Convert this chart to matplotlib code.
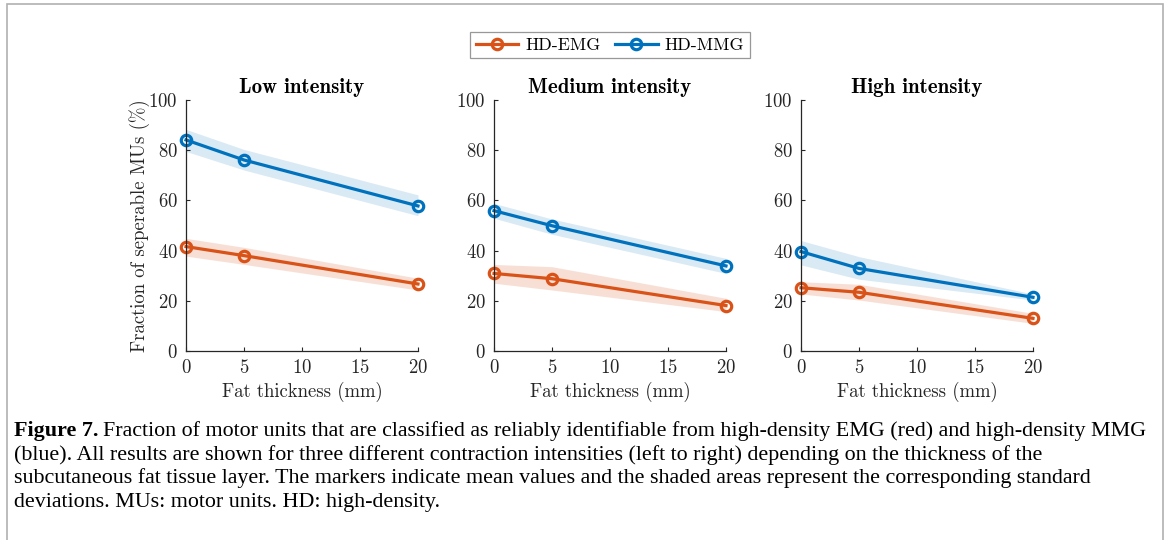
import matplotlib
matplotlib.use("Agg")
import matplotlib.pyplot as plt
from matplotlib.patches import Rectangle

plt.rcParams['font.family'] = 'cmr10'
plt.rcParams['axes.formatter.use_mathtext'] = True
plt.rcParams['mathtext.fontset'] = 'cm'

# fat thickness (mm)
fat = [0, 5, 20]
titoli = ['Low intensity', 'Medium intensity', 'High intensity']

# mean and band limits (%) per intensity
emg_mean = [[41.6, 38.0, 26.7], [30.9, 28.8, 18.1], [25.2, 23.4, 13.0]]
emg_low = [[37.8, 34.5, 24.3], [27.0, 24.3, 15.7], [22.7, 20.3, 11.0]]
emg_high = [[44.9, 41.3, 29.0], [34.5, 33.6, 21.0], [27.6, 26.6, 15.0]]

mmg_mean = [[84.1, 76.1, 57.8], [55.9, 49.9, 33.9], [39.6, 32.9, 21.4]]
mmg_low = [[79.5, 72.1, 53.9], [52.9, 46.5, 30.9], [34.3, 28.6, 20.3]]
mmg_high = [[88.3, 80.3, 62.2], [58.8, 52.6, 36.9], [44.0, 37.6, 22.7]]

rosso = '#D95319'
blu = '#0072BD'
grigio = '#262626'

fig = plt.figure(figsize=(11.7, 5.4), dpi=100)

# cornice grigia attorno alla figura
fig.patches.append(Rectangle((7 / 1170, -0.1), 1156 / 1170, 1.1 - 4 / 540, transform=fig.transFigure,
                             fill=False, edgecolor='#b0b0b0', linewidth=1.2))

x_inizio = [186, 494, 801]
assi = []
for i in range(3):
    ax = fig.add_axes([x_inizio[i] / 1170, 1 - 351 / 540, 232 / 1170, 251 / 540])
    ax.fill_between(fat, emg_low[i], emg_high[i], color=rosso, alpha=0.18, linewidth=0)
    ax.fill_between(fat, mmg_low[i], mmg_high[i], color=blu, alpha=0.15, linewidth=0)
    l1, = ax.plot(fat, emg_mean[i], '-o', color=rosso, lw=2.3, markersize=7.5,
                  markerfacecolor='none', markeredgewidth=2.3, clip_on=False, label='HD-EMG')
    l2, = ax.plot(fat, mmg_mean[i], '-o', color=blu, lw=2.3, markersize=7.5,
                  markerfacecolor='none', markeredgewidth=2.3, clip_on=False, label='HD-MMG')
    ax.set_xlim(0, 20)
    ax.set_ylim(0, 100)
    ax.set_xticks([0, 5, 10, 15, 20])
    ax.set_yticks([0, 20, 40, 60, 80, 100])
    ax.spines['top'].set_visible(False)
    ax.spines['right'].set_visible(False)
    for s in ['left', 'bottom']:
        ax.spines[s].set_color(grigio)
        ax.spines[s].set_linewidth(0.9)
    ax.tick_params(direction='in', length=3, width=0.8, colors=grigio, labelsize=13.5, pad=6)
    ax.set_xlabel('Fat thickness (mm)', fontsize=13.5, color=grigio, labelpad=3)
    ax.set_title(titoli[i], fontsize=15, family='cmb10', color='black', pad=5)
    assi.append(ax)

assi[0].set_ylabel('Fraction of seperable MUs (%)', fontsize=13.5, color=grigio, labelpad=-1.5)

leg = fig.legend(handles=[l1, l2], loc='center', bbox_to_anchor=(610 / 1170, 1 - 45 / 540), ncol=2,
                 fontsize=12.8, frameon=True, fancybox=False, edgecolor='#7f7f7f',
                 handlelength=2.4, columnspacing=0.8, handletextpad=0.4, borderpad=0.3, borderaxespad=0)
leg.get_frame().set_linewidth(0.9)

# didascalia
cap = ['(blue). All results are shown for three different contraction intensities (left to right) depending on the thickness of the',
       'subcutaneous fat tissue layer. The markers indicate mean values and the shaded areas represent the corresponding standard',
       'deviations. MUs: motor units. HD: high-density.']
y0 = 1 - 431 / 540
dy = 23.7 / 540
fs = 15.8
t = fig.text(14 / 1170, y0, 'Figure 7.', family='Liberation Serif', weight='bold', fontsize=fs, va='center')
fig.canvas.draw()
bb = t.get_window_extent()
fig.text(bb.x1 / 1170 + 4 / 1170, y0, 'Fraction of motor units that are classified as reliably identifiable from high-density EMG (red) and high-density MMG',
         family='Liberation Serif', fontsize=fs, va='center')
for k, riga in enumerate(cap):
    fig.text(14 / 1170, y0 - (k + 1) * dy, riga, family='Liberation Serif', fontsize=fs, va='center')

fig.savefig('out.png', dpi=100)
